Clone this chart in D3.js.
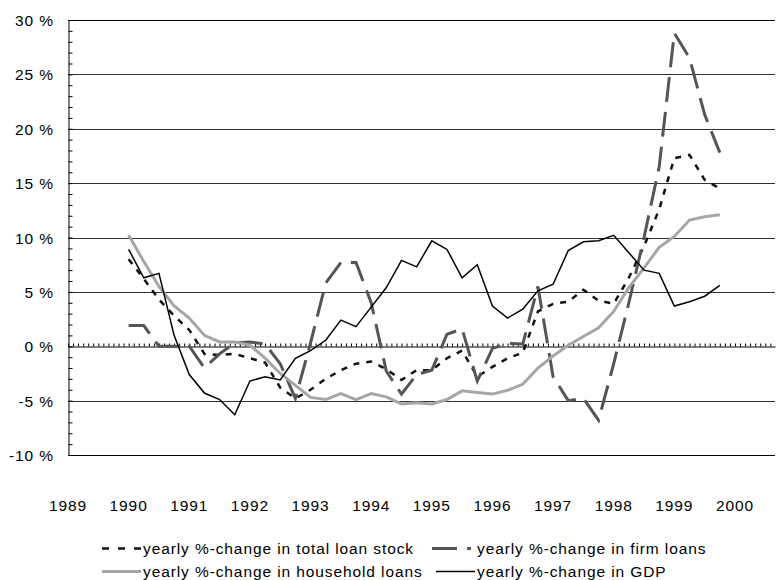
<!DOCTYPE html>
<html>
<head>
<meta charset="utf-8">
<script src="https://cdn.jsdelivr.net/npm/d3@7"></script>
<style>
  body { margin: 0; background: #fff; }
  svg { font-family: "Liberation Sans", Arial, sans-serif; }
  text { letter-spacing: 0.9px; }
</style>
</head>
<body>
<div id="chart"></div>
<script>
const quarters = [
  1990, 1990.25, 1990.5, 1990.75, 1991, 1991.25, 1991.5, 1991.75,
  1992, 1992.25, 1992.5, 1992.75, 1993, 1993.25, 1993.5, 1993.75,
  1994, 1994.25, 1994.5, 1994.75, 1995, 1995.25, 1995.5, 1995.75,
  1996, 1996.25, 1996.5, 1996.75, 1997, 1997.25, 1997.5, 1997.75,
  1998, 1998.25, 1998.5, 1998.75, 1999, 1999.25, 1999.5, 1999.75
];

const totalLoans = [
  8.0, 6.2, 4.3, 2.8, 1.5, -0.7, -0.8, -0.7,
  -1.1, -1.5, -3.8, -4.8, -4.0, -3.0, -2.2, -1.6,
  -1.4, -2.1, -3.1, -2.2, -2.2, -1.1, -0.4, -2.8,
  -1.9, -1.1, -0.6, 3.2, 3.9, 4.1, 5.2, 4.2,
  3.9, 6.3, 9.2, 12.6, 17.3, 17.6, 15.3, 14.5
];

const firmLoans = [
  1.9, 1.9, 0.0, 0.0, 0.0, -2.0, -0.7, 0.3,
  0.4, 0.2, -1.6, -4.8, 0.3, 5.8, 7.7, 7.7,
  4.0, -2.3, -4.4, -2.6, -2.2, 1.1, 1.6, -3.2,
  -0.2, 0.25, 0.2, 5.5, -2.8, -5.0, -4.8, -6.8,
  -1.6, 4.0, 10.0, 16.5, 28.8, 26.5, 21.3, 17.8
];

const householdLoans = [
  10.2, 7.8, 5.5, 3.7, 2.6, 1.0, 0.4, 0.4,
  0.1, -1.1, -2.5, -3.6, -4.7, -4.9, -4.35, -4.9,
  -4.35, -4.65, -5.3, -5.2, -5.3, -4.9, -4.1, -4.25,
  -4.4, -4.05, -3.5, -2.0, -0.9, 0.1, 0.9, 1.7,
  3.2, 5.4, 7.2, 9.1, 10.1, 11.6, 11.9, 12.1
];

const gdp = [
  8.9, 6.3, 6.7, 1.0, -2.6, -4.3, -4.9, -6.3,
  -3.2, -2.8, -3.1, -1.1, -0.4, 0.55, 2.4, 1.8,
  3.6, 5.4, 7.9, 7.3, 9.7, 8.9, 6.3, 7.5,
  3.7, 2.6, 3.4, 5.1, 5.7, 8.8, 9.6, 9.7,
  10.2, 8.6, 7.0, 6.7, 3.7, 4.1, 4.6, 5.6
];

const yearLabels = [1989, 1990, 1991, 1992, 1993, 1994, 1995, 1996, 1997, 1998, 1999, 2000];
const yTicks = [-10, -5, 0, 5, 10, 15, 20, 25, 30];

const seriesNames = [
  "yearly %-change in total loan stock",
  "yearly %-change in firm loans",
  "yearly %-change in household loans",
  "yearly %-change in GDP"
];

const width = 780;
const height = 580;
const plotLeft = 68, plotRight = 775, plotTop = 20, plotBottom = 455;
const fontSize = 15.5;

const svg = d3.select("#chart")
  .append("svg")
  .attr("width", width)
  .attr("height", height);

const x = d3.scaleLinear().domain([1989, 2000.66]).range([plotLeft, plotRight]);
const y = d3.scaleLinear().domain([-10, 30]).range([plotBottom, plotTop]);

// horizontal grid lines
svg.append("g")
  .selectAll("line")
  .data(yTicks.filter((d) => d !== 0))
  .enter()
  .append("line")
  .attr("x1", plotLeft)
  .attr("x2", plotRight)
  .attr("y1", (d) => Math.round(y(d)) + 0.5)
  .attr("y2", (d) => Math.round(y(d)) + 0.5)
  .attr("stroke", (d) => (d === 30 || d === -10 ? "#000" : "#333"))
  .attr("stroke-width", 1);

// y axis with minor ticks
const yAxis = svg.append("g")
  .attr("transform", `translate(${plotLeft + 0.5},0)`)
  .call(
    d3.axisRight(y)
      .tickValues(d3.range(-10, 31, 1))
      .tickSize(4)
      .tickSizeOuter(0)
      .tickFormat("")
  );
yAxis.select(".domain").attr("stroke", "#000");
yAxis.selectAll(".tick line").attr("stroke", "#000");

// y labels
svg.append("g")
  .selectAll("text")
  .data(yTicks)
  .enter()
  .append("text")
  .attr("x", 54)
  .attr("y", (d) => y(d) + 6)
  .attr("text-anchor", "end")
  .attr("font-size", fontSize)
  .text((d) => d + " %");

// zero line with monthly ticks
const monthTicks = d3.range(0, 140).map((i) => 1989 + i / 12);
const xAxis = svg.append("g")
  .attr("transform", `translate(0,${Math.round(y(0)) + 0.5})`)
  .call(
    d3.axisTop(x)
      .tickValues(monthTicks)
      .tickSize(3)
      .tickSizeOuter(0)
      .tickFormat("")
  );
xAxis.select(".domain").attr("stroke", "#000");
xAxis.selectAll(".tick line").attr("stroke", "#000");

// year labels
svg.append("g")
  .selectAll("text")
  .data(yearLabels)
  .enter()
  .append("text")
  .attr("x", (d) => x(d))
  .attr("y", 511)
  .attr("text-anchor", "middle")
  .attr("font-size", fontSize)
  .text((d) => d);

const styles = [
  { data: totalLoans, color: "#111", w: 2.5, dash: "6,7", legendDash: "7,9" },
  { data: firmLoans, color: "#555", w: 3, dash: "25,10", legendDash: "25,10" },
  { data: householdLoans, color: "#a6a6a6", w: 3, dash: null, legendDash: null },
  { data: gdp, color: "#000", w: 1.5, dash: null, legendDash: null }
];

const line = d3.line()
  .x((d, i) => x(quarters[i]))
  .y((d) => y(d));

svg.append("g")
  .selectAll("path")
  .data(styles)
  .enter()
  .append("path")
  .attr("d", (s) => line(s.data))
  .attr("fill", "none")
  .attr("stroke", (s) => s.color)
  .attr("stroke-width", (s) => s.w)
  .attr("stroke-dasharray", (s) => s.dash)
  .attr("stroke-linejoin", "miter");

// legend
const legendPos = [
  { x: 102, tx: 143, y: 554 },
  { x: 432, tx: 477, y: 554 },
  { x: 102, tx: 143, y: 577 },
  { x: 436, tx: 477, y: 577 }
];

const legend = svg.append("g")
  .selectAll("g")
  .data(styles)
  .enter()
  .append("g")
  .attr("transform", (d, i) => `translate(0,${legendPos[i].y})`);

legend.append("line")
  .attr("x1", (d, i) => legendPos[i].x)
  .attr("x2", (d, i) => legendPos[i].x + 39)
  .attr("y1", -5.5)
  .attr("y2", -5.5)
  .attr("stroke", (s) => s.color)
  .attr("stroke-width", (s) => s.w)
  .attr("stroke-dasharray", (s) => s.legendDash);

legend.append("text")
  .attr("x", (d, i) => legendPos[i].tx)
  .attr("y", 0)
  .attr("font-size", fontSize)
  .text((d, i) => seriesNames[i]);
</script>
</body>
</html>
